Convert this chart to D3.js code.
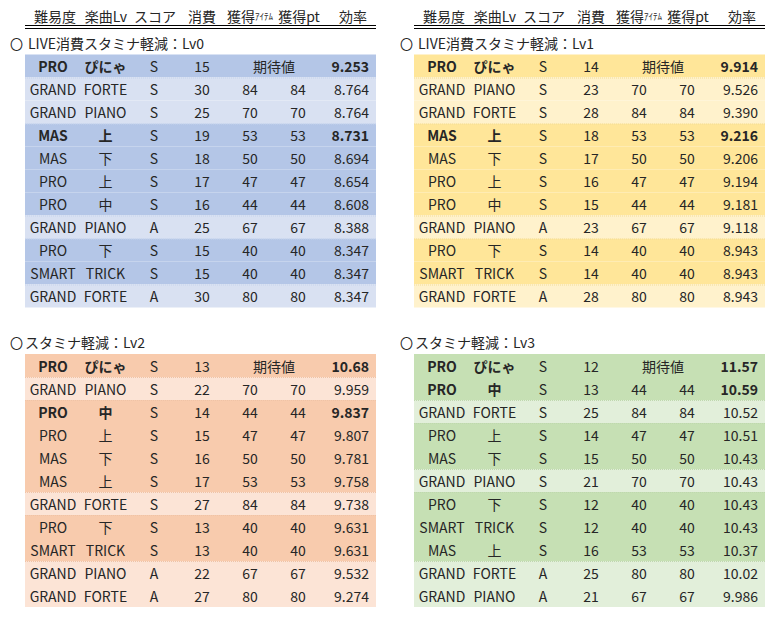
<!DOCTYPE html>
<html>
<head>
<meta charset="utf-8">
<script src="https://cdn.jsdelivr.net/npm/d3@7"></script>
<style>
  html, body { margin: 0; padding: 0; background: #fff; }
  svg text { font-family: "Noto Sans CJK JP", "Noto Sans", sans-serif; fill: #262626; }
</style>
</head>
<body>
<div id="chart"></div>
<script>
// ---------- data ----------
const headers = ["難易度", "楽曲Lv", "スコア", "消費", "獲得ｱｲﾃﾑ", "獲得pt", "効率"];
const panelTitles = ["LIVE消費スタミナ軽減：Lv0", "LIVE消費スタミナ軽減：Lv1", "スタミナ軽減：Lv2", "スタミナ軽減：Lv3"];
const expectLabel = "期待値";

const diff0 = ["PRO","GRAND","GRAND","MAS","MAS","PRO","PRO","GRAND","PRO","SMART","GRAND"];
const song0 = ["ぴにゃ","FORTE","PIANO","上","下","上","中","PIANO","下","TRICK","FORTE"];
const score0 = ["S","S","S","S","S","S","S","A","S","S","A"];
const cost0 = [15,30,25,19,18,17,16,25,15,15,30];
const item0 = [null,84,70,53,50,47,44,67,40,40,80];
const pt0 = [null,84,70,53,50,47,44,67,40,40,80];
const eff0 = ["9.253","8.764","8.764","8.731","8.694","8.654","8.608","8.388","8.347","8.347","8.347"];
const bold0 = [0,3];

const diff1 = ["PRO","GRAND","GRAND","MAS","MAS","PRO","PRO","GRAND","PRO","SMART","GRAND"];
const song1 = ["ぴにゃ","PIANO","FORTE","上","下","上","中","PIANO","下","TRICK","FORTE"];
const score1 = ["S","S","S","S","S","S","S","A","S","S","A"];
const cost1 = [14,23,28,18,17,16,15,23,14,14,28];
const item1 = [null,70,84,53,50,47,44,67,40,40,80];
const pt1 = [null,70,84,53,50,47,44,67,40,40,80];
const eff1 = ["9.914","9.526","9.390","9.216","9.206","9.194","9.181","9.118","8.943","8.943","8.943"];
const bold1 = [0,3];

const diff2 = ["PRO","GRAND","PRO","PRO","MAS","MAS","GRAND","PRO","SMART","GRAND","GRAND"];
const song2 = ["ぴにゃ","PIANO","中","上","下","上","FORTE","下","TRICK","PIANO","FORTE"];
const score2 = ["S","S","S","S","S","S","S","S","S","A","A"];
const cost2 = [13,22,14,15,16,17,27,13,13,22,27];
const item2 = [null,70,44,47,50,53,84,40,40,67,80];
const pt2 = [null,70,44,47,50,53,84,40,40,67,80];
const eff2 = ["10.68","9.959","9.837","9.807","9.781","9.758","9.738","9.631","9.631","9.532","9.274"];
const bold2 = [0,2];

const diff3 = ["PRO","PRO","GRAND","PRO","MAS","GRAND","PRO","SMART","MAS","GRAND","GRAND"];
const song3 = ["ぴにゃ","中","FORTE","上","下","PIANO","下","TRICK","上","FORTE","PIANO"];
const score3 = ["S","S","S","S","S","S","S","S","S","A","A"];
const cost3 = [12,13,25,14,15,21,12,12,16,25,21];
const item3 = [null,44,84,47,50,70,40,40,53,80,67];
const pt3 = [null,44,84,47,50,70,40,40,53,80,67];
const eff3 = ["11.57","10.59","10.52","10.51","10.43","10.43","10.43","10.43","10.37","10.02","9.986"];
const bold3 = [0,1];

const panels = [
  {diff: diff0, song: song0, score: score0, cost: cost0, item: item0, pt: pt0, eff: eff0, bold: bold0},
  {diff: diff1, song: song1, score: score1, cost: cost1, item: item1, pt: pt1, eff: eff1, bold: bold1},
  {diff: diff2, song: song2, score: score2, cost: cost2, item: item2, pt: pt2, eff: eff2, bold: bold2},
  {diff: diff3, song: song3, score: score3, cost: cost3, item: item3, pt: pt3, eff: eff3, bold: bold3}
];

// ---------- layout / styles ----------
const W = 775, H = 620;
const darkColors  = ["#B4C6E7", "#FFE699", "#F8CBAD", "#C6E0B4"];
const lightColors = ["#D9E1F2", "#FFF2CC", "#FCE4D6", "#E2EFDA"];
const sepColors   = ["#C6D3EC", "#F2DC98", "#EFC3A6", "#BFD8AE"];

const svg = d3.select("#chart").append("svg")
  .attr("width", W).attr("height", H)
  .style("display", "block");

// panel origin scales
const panelX = d3.scaleOrdinal().domain([0,1,2,3]).range([25, 414, 25, 414]);
const panelTop = d3.scaleOrdinal().domain([0,1,2,3]).range([54.5, 54.5, 354, 354]);
const titleY = d3.scaleOrdinal().domain([0,1,2,3]).range([43, 43, 342, 342]);
const circleX = d3.scaleOrdinal().domain([0,1,2,3]).range([10, 400, 10, 400]);
const titleX = d3.scaleOrdinal().domain([0,1,2,3]).range([28, 418, 25, 415]);

const tableW = 351;
const rowH = 23;
const nRows = 11;

// column offsets within a table (relative to table left)
const colKeys = ["diff","song","score","cost","item","pt","eff"];
const colX = d3.scaleOrdinal().domain(colKeys).range([28, 80.5, 129, 177, 225, 273, 344]);
const headX = d3.scaleOrdinal().domain(colKeys).range([30, 81, 130, 177, 225, 274, 328]);
const expectX = 249;

const fs = 14;

// ---------- headers ----------
[0, 1].forEach(p => {
  const g = svg.append("g").attr("transform", `translate(${panelX(p)},0)`);
  headers.forEach((h, i) => {
    const t = g.append("text")
      .attr("x", headX(colKeys[i])).attr("y", 16)
      .attr("text-anchor", "middle").attr("dominant-baseline", "central")
      .style("font-size", fs + "px");
    if (h.indexOf("ｱｲﾃﾑ") >= 0) {
      t.append("tspan").text("獲得");
      t.append("tspan").text("ｱｲﾃﾑ").style("font-size", "9px");
    } else {
      t.text(h);
    }
  });
  g.append("line").attr("x1", 0).attr("x2", tableW).attr("y1", 25.5).attr("y2", 25.5)
    .attr("stroke", "#000").attr("stroke-width", 1);
  g.append("line").attr("x1", 0).attr("x2", tableW).attr("y1", 28.5).attr("y2", 28.5)
    .attr("stroke", "#000").attr("stroke-width", 1);
});

// ---------- panels ----------
panels.forEach((pd, p) => {
  // title
  svg.append("text").attr("x", circleX(p)).attr("y", titleY(p))
    .attr("dominant-baseline", "central").style("font-size", "13px").text("〇");
  svg.append("text").attr("x", titleX(p)).attr("y", titleY(p))
    .attr("dominant-baseline", "central").style("font-size", fs + "px").text(panelTitles[p]);

  const y = d3.scaleBand().domain(d3.range(nRows))
    .range([panelTop(p), panelTop(p) + rowH * nRows]).padding(0);

  const g = svg.append("g").attr("transform", `translate(${panelX(p)},0)`);
  const isLight = i => pd.diff[i] === "GRAND";

  const rows = g.selectAll("g.row").data(d3.range(nRows)).join("g").attr("class", "row");

  rows.append("rect")
    .attr("x", 0).attr("y", i => y(i))
    .attr("width", tableW).attr("height", y.bandwidth())
    .attr("fill", i => isLight(i) ? lightColors[p] : darkColors[p]);

  // faint dotted separators between differently shaded rows
  d3.range(1, nRows).forEach(i => {
    if (isLight(i) !== isLight(i - 1)) {
      g.append("line").attr("x1", 0).attr("x2", tableW)
        .attr("y1", y(i) + 0.5).attr("y2", y(i) + 0.5)
        .attr("stroke", sepColors[p]).attr("stroke-width", 1)
        .attr("stroke-dasharray", "1,1");
    }
  });

  const isBold = i => pd.bold.indexOf(i) >= 0;
  const cy = i => y(i) + y.bandwidth() / 2;

  function cell(key, accessor, anchor, boldable) {
    rows.append("text")
      .attr("x", colX(key)).attr("y", cy)
      .attr("text-anchor", anchor).attr("dominant-baseline", "central")
      .style("font-size", fs + "px")
      .style("font-weight", i => (boldable && isBold(i)) ? "bold" : "normal")
      .text(accessor);
  }
  cell("diff", i => pd.diff[i], "middle", true);
  cell("song", i => pd.song[i], "middle", true);
  cell("score", i => pd.score[i], "middle", false);
  cell("cost", i => pd.cost[i], "middle", false);
  cell("item", i => pd.item[i] == null ? "" : pd.item[i], "middle", false);
  cell("pt", i => pd.pt[i] == null ? "" : pd.pt[i], "middle", false);
  cell("eff", i => pd.eff[i], "end", true);

  rows.filter(i => pd.item[i] == null).append("text")
    .attr("x", expectX).attr("y", cy)
    .attr("text-anchor", "middle").attr("dominant-baseline", "central")
    .style("font-size", fs + "px").text(expectLabel);
});
</script>
</body>
</html>
